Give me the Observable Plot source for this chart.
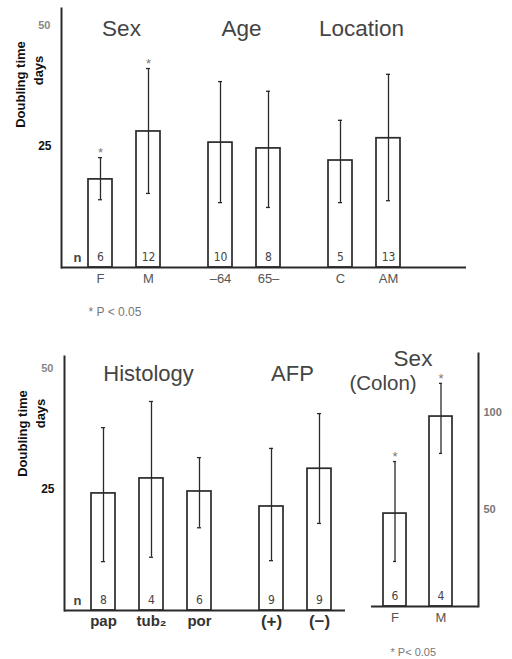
<!DOCTYPE html>
<html><head><meta charset="utf-8">
<script src="https://cdn.jsdelivr.net/npm/d3@7"></script>
<script src="https://cdn.jsdelivr.net/npm/@observablehq/plot@0.6"></script>
<style>
body{margin:0;background:#fff;}
#wrap{position:relative;width:512px;height:659px;overflow:hidden;}
#wrap svg{position:absolute;left:0;}
</style></head><body><div id="wrap"></div>
<script>
// ---------- Top panel ----------
const topGroups = ["Sex", "Age", "Location"];
const topCats = [["F", "M"], ["–64", "65–"], ["C", "AM"]];
const topMean = [18.2, 28.1, 25.8, 24.6, 22.1, 26.7];
const topLow  = [14.0, 15.3, 13.4, 12.4, 13.4, 13.8];
const topHigh = [22.7, 41.1, 38.4, 36.4, 30.4, 39.9];
const topN    = [6, 12, 10, 8, 5, 13];
const topSig  = [true, true, false, false, false, false];

// ---------- Bottom panel ----------
const botGroups = ["Histology", "AFP"];
const botCats = [["pap", "tub₂", "por"], ["(+)", "(−)"]];
const botMean = [24.2, 27.3, 24.6, 21.5, 29.3];
const botLow  = [10.1, 11.0, 17.1, 10.3, 18.0];
const botHigh = [37.8, 43.2, 31.6, 33.5, 40.7];
const botN    = [8, 4, 6, 9, 9];
const botSig  = [false, false, false, false, false];

// ---------- Colon panel ----------
const colonGroups = ["Sex"];
const colonSubtitle = "(Colon)";
const colonCats = [["F", "M"]];
const colonMean = [47.9, 97.9];
const colonLow  = [23.2, 78.9];
const colonHigh = [74.7, 115.0];
const colonN    = [6, 4];
const colonSig  = [true, true];

const yTicksLeft = [25, 50];
const yTicksColon = [50, 100];
const yLabel = ["Doubling time", "days"];
const footnoteTop = "* P < 0.05";
const footnoteBottom = "* P< 0.05";
const nLabel = "n";

const FONT = "'Liberation Sans', Arial, Helvetica, sans-serif";
const NARROW = "'Liberation Sans Narrow', 'DejaVu Sans Condensed', 'Liberation Sans', sans-serif";
const ink = "#2a2a2a";
const grey = "#555";

function layout(groups, cats) {
  const domain = [], titleAt = [];
  groups.forEach((g, gi) => {
    if (gi > 0) { domain.push(`gapA${gi}`); domain.push(`gapB${gi}`); }
    const cs = cats[gi];
    cs.forEach((c, i) => { if (i > 0) domain.push(`${g}:${i}`); domain.push(c); });
    titleAt.push(cs.length % 2 ? cs[(cs.length - 1) / 2] : `${g}:${cs.length / 2}`);
  });
  return {domain, titles: groups.map((g, i) => ({name: g, at: titleAt[i]}))};
}
function rows(cats, mean, low, high, n, sig) {
  return cats.flat().map((c, i) => ({cat: c, mean: mean[i], low: low[i], high: high[i], n: n[i], sig: sig[i]}));
}
function barMarks(data) {
  return [
    Plot.barY(data, {x: "cat", y: "mean", fill: "white", stroke: ink, strokeWidth: 1.7}),
    Plot.ruleX(data, {x: "cat", y1: "low", y2: "high", stroke: ink, strokeWidth: 1.3}),
    Plot.tickY(data, {x: "cat", y: "low", insetLeft: 10, insetRight: 10, stroke: ink, strokeWidth: 1.3}),
    Plot.tickY(data, {x: "cat", y: "high", insetLeft: 10, insetRight: 10, stroke: ink, strokeWidth: 1.3}),
    Plot.text(data.filter(d => d.sig), {x: "cat", y: "high", text: () => "*", dy: -5, fontSize: 13, fill: "#777", fontFamily: FONT}),
    Plot.text(data, {x: "cat", frameAnchor: "bottom", lineAnchor: "middle", dy: -10, text: d => String(d.n), fontSize: 12, fill: "#444", fontFamily: NARROW}),
    Plot.ruleY([0], {stroke: ink, strokeWidth: 2})
  ];
}
function yLabelMarks(dx0, dy0, dx1, dy1) {
  const common = {text: d => d, frameAnchor: "top-left", textAnchor: "middle", lineAnchor: "middle", rotate: -90, fontSize: 13, fontWeight: "bold", fill: "#111"};
  return [
    Plot.text([yLabel[0]], {...common, dx: dx0, dy: dy0}),
    Plot.text([yLabel[1]], {...common, dx: dx1, dy: dy1})
  ];
}
const wrap = document.getElementById("wrap");

// ---------- Top plot ----------
{
  const L = layout(topGroups, topCats);
  const data = rows(topCats, topMean, topLow, topHigh, topN, topSig);
  const svg = Plot.plot({
    width: 512, height: 330, marginLeft: 61, marginRight: 46, marginTop: 8, marginBottom: 63,
    style: {background: "transparent", fontFamily: FONT},
    x: {type: "band", domain: L.domain, range: [85.8, 402.7], paddingInner: 0.02, paddingOuter: 0},
    y: {domain: [0, 53.5]},
    marks: [
      Plot.frame({anchor: "left", stroke: ink, strokeWidth: 2}),
      ...barMarks(data),
      Plot.axisY([yTicksLeft[1]], {tickSize: 0, tickPadding: 11, fill: "#888", fontSize: 11, fontWeight: "bold", label: null}),
      Plot.axisY([yTicksLeft[0]], {tickSize: 0, tickPadding: 10, fill: "#111", fontSize: 12, fontWeight: "bold", label: null}),
      Plot.axisX(topCats.flat(), {tickSize: 0, tickPadding: 6, fill: grey, fontSize: 13, label: null}),
      Plot.text(L.titles, {x: "at", text: "name", frameAnchor: "top", lineAnchor: "middle", dy: 20, dx: -3, fontSize: 22.5, fill: "#444"}),
      ...yLabelMarks(-41, 76, -23, 62),
      Plot.text([nLabel], {text: d => d, frameAnchor: "bottom-left", textAnchor: "middle", lineAnchor: "middle", dx: 16, dy: -10, fontSize: 13, fontWeight: "bold", fill: "#444"}),
      Plot.text([footnoteTop], {text: d => d, frameAnchor: "bottom-left", textAnchor: "start", lineAnchor: "middle", dx: 27, dy: 45, fontSize: 12, fill: "#777"})
    ]
  });
  svg.style.top = "0px";
  wrap.appendChild(svg);
}

// ---------- Bottom plot ----------
{
  const L = layout(botGroups, botCats);
  const data = rows(botCats, botMean, botLow, botHigh, botN, botSig);
  const svg = Plot.plot({
    width: 512, height: 329, marginLeft: 64, marginRight: 167, marginTop: 26, marginBottom: 49,
    style: {background: "transparent", fontFamily: FONT},
    x: {type: "band", domain: L.domain, range: [88.8, 332.2], paddingInner: 0.02, paddingOuter: 0},
    y: {domain: [0, 52.5]},
    marks: [
      Plot.frame({anchor: "left", stroke: ink, strokeWidth: 2}),
      ...barMarks(data),
      Plot.axisY([yTicksLeft[1]], {tickSize: 0, tickPadding: 11, fill: "#888", fontSize: 11, fontWeight: "bold", label: null}),
      Plot.axisY([yTicksLeft[0]], {tickSize: 0, tickPadding: 10, fill: "#111", fontSize: 12, fontWeight: "bold", label: null}),
      Plot.axisX(botCats[0], {tickSize: 0, tickPadding: 5, fill: "#333", fontSize: 15, fontWeight: "bold", label: null}),
      Plot.axisX(botCats[1], {tickSize: 0, tickPadding: 4, fill: "#333", fontSize: 17, fontWeight: "bold", label: null}),
      Plot.text(L.titles, {x: "at", text: "name", frameAnchor: "top", lineAnchor: "middle", dy: 17, dx: -3, fontSize: 22, fill: "#444"}),
      ...yLabelMarks(-42, 77, -24, 57),
      Plot.text([nLabel], {text: d => d, frameAnchor: "bottom-left", textAnchor: "middle", lineAnchor: "middle", dx: 13, dy: -10, fontSize: 13, fontWeight: "bold", fill: "#444"})
    ]
  });
  svg.style.top = "330px";
  wrap.appendChild(svg);
}

// ---------- Colon plot ----------
{
  const L = layout(colonGroups, colonCats);
  const data = rows(colonCats, colonMean, colonLow, colonHigh, colonN, colonSig);
  const svg = Plot.plot({
    width: 512, height: 329, marginLeft: 371, marginRight: 34, marginTop: 23, marginBottom: 53,
    style: {background: "transparent", fontFamily: FONT},
    x: {type: "band", domain: L.domain, range: [382.1, 453.4], paddingInner: 0.02, paddingOuter: 0},
    y: {domain: [0, 130.4]},
    marks: [
      Plot.frame({anchor: "right", stroke: ink, strokeWidth: 2}),
      ...barMarks(data),
      Plot.axisY(yTicksColon, {anchor: "right", tickSize: 0, tickPadding: 5, fill: "#777", fontSize: 11, fontWeight: "bold", label: null}),
      Plot.axisX(colonCats.flat(), {tickSize: 0, tickPadding: 6, fill: grey, fontSize: 13, label: null}),
      Plot.text(L.titles, {x: "at", text: "name", frameAnchor: "top", lineAnchor: "middle", dy: 5, dx: -5, fontSize: 22.5, fill: "#444"}),
      Plot.text(L.titles, {x: "at", text: () => colonSubtitle, frameAnchor: "top", lineAnchor: "middle", dy: 30, dx: -35, fontSize: 20.5, fill: "#444"}),
      Plot.text([footnoteBottom], {text: d => d, frameAnchor: "bottom-left", textAnchor: "start", lineAnchor: "middle", dx: 19, dy: 46, fontSize: 11, fill: "#777"})
    ]
  });
  svg.style.top = "330px";
  wrap.appendChild(svg);
}
</script>
</body></html>
